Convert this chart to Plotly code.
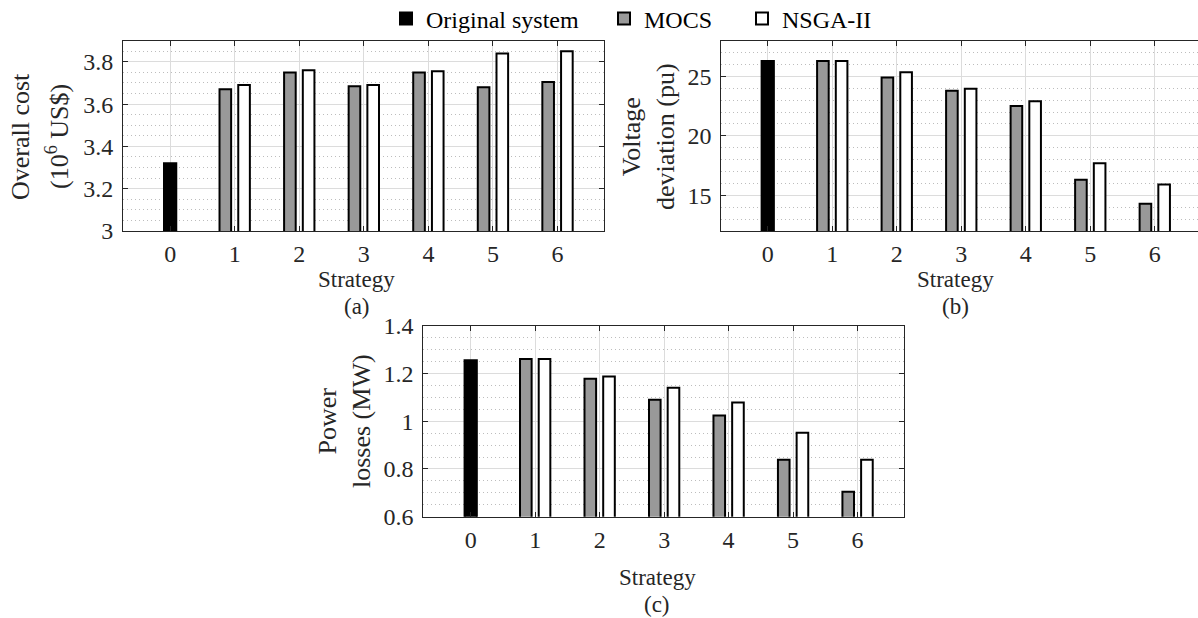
import plotly.graph_objects as go

# Strategy categories
strategies = [0, 1, 2, 3, 4, 5, 6]
base_strategy = [0]
opt_strategies = [1, 2, 3, 4, 5, 6]

# (a) Overall cost (10^6 US$)
cost_original = [3.32]
cost_mocs = [3.67, 3.75, 3.685, 3.75, 3.68, 3.705]
cost_nsga = [3.69, 3.76, 3.69, 3.755, 3.84, 3.85]

# (b) Voltage deviation (pu)
vd_original = [26.3]
vd_mocs = [26.3, 24.9, 23.8, 22.5, 16.3, 14.3]
vd_nsga = [26.3, 25.35, 23.95, 22.9, 17.7, 15.9]

# (c) Power losses (MW)
loss_original = [1.255]
loss_mocs = [1.26, 1.178, 1.09, 1.024, 0.839, 0.705]
loss_nsga = [1.26, 1.187, 1.14, 1.078, 0.952, 0.839]

W, H = 1198, 618
FONT = "Liberation Serif, Times New Roman, serif"
AXIS_COLOR = "#262626"
GRID = "#dcdcdc"
MINOR_GRID = "#bdbdbd"
GRAY = "#999999"
EDGE = 2

panels = [
    dict(ax="", orig=cost_original, mocs=cost_mocs, nsga=cost_nsga, legend=True),
    dict(ax="2", orig=vd_original, mocs=vd_mocs, nsga=vd_nsga, legend=False),
    dict(ax="3", orig=loss_original, mocs=loss_mocs, nsga=loss_nsga, legend=False),
]

fig = go.Figure()
for p in panels:
    xa, ya = "x" + p["ax"], "y" + p["ax"]
    fig.add_trace(go.Bar(
        x=base_strategy, y=p["orig"], name="Original system",
        width=0.19, offset=-0.095,
        marker=dict(color="black", line=dict(color="black", width=EDGE)),
        xaxis=xa, yaxis=ya, showlegend=p["legend"], legend="legend"))
    fig.add_trace(go.Bar(
        x=opt_strategies, y=p["mocs"], name="MOCS",
        width=0.18, offset=-0.235,
        marker=dict(color=GRAY, line=dict(color="black", width=EDGE)),
        xaxis=xa, yaxis=ya, showlegend=p["legend"], legend="legend2"))
    fig.add_trace(go.Bar(
        x=opt_strategies, y=p["nsga"], name="NSGA-II",
        width=0.18, offset=0.055,
        marker=dict(color="white", line=dict(color="black", width=EDGE)),
        xaxis=xa, yaxis=ya, showlegend=p["legend"], legend="legend3"))


def xaxis(domain, rng, anchor):
    return dict(
        domain=domain, range=rng, anchor=anchor,
        tickmode="array", tickvals=strategies, ticktext=[str(s) for s in strategies],
        showline=True, linecolor=AXIS_COLOR, linewidth=1, mirror="ticks",
        ticks="inside", ticklen=5, tickcolor=AXIS_COLOR,
        showgrid=True, gridcolor=GRID, gridwidth=1, zeroline=False,
        tickfont=dict(family=FONT, size=24, color="#262626"),
        ticklabelstandoff=1,
    )


def yaxis(domain, rng, dtick, minor, anchor, mirror="ticks"):
    return dict(
        domain=domain, range=rng, anchor=anchor, dtick=dtick, tick0=0,
        showline=True, linecolor=AXIS_COLOR, linewidth=1, mirror=mirror,
        ticks="inside", ticklen=5, tickcolor=AXIS_COLOR,
        showgrid=True, gridcolor=GRID, gridwidth=1, zeroline=False,
        minor=dict(dtick=minor, tick0=0, showgrid=True, gridcolor=MINOR_GRID,
                   griddash="1px,3px", gridwidth=1, ticks=""),
        tickfont=dict(family=FONT, size=24, color="#262626"),
        ticklabelstandoff=4,
    )


top_dom = [1 - 231 / H, 1 - 40.7 / H]
bot_dom = [1 - 516.7 / H, 1 - 325.7 / H]


def legend_at(text_left):
    return dict(orientation="h", x=(text_left - 41) / W, xanchor="left",
                y=1.006, yanchor="top", bgcolor="rgba(0,0,0,0)", borderwidth=0,
                font=dict(family=FONT, size=24, color="black"))


fig.update_layout(
    width=W, height=H,
    margin=dict(l=0, r=0, t=0, b=0, autoexpand=False),
    paper_bgcolor="white", plot_bgcolor="white",
    barmode="overlay",
    font=dict(family=FONT, size=24, color="#262626"),
    xaxis=xaxis([123 / W, 604 / W], [-0.73, 6.72], "y"),
    yaxis=yaxis(top_dom, [3, 3.9], 0.2, 0.05, "x"),
    xaxis2=xaxis([721.3 / W, 1.0], [-0.72, 6.67], "y2"),
    yaxis2=yaxis(top_dom, [12, 28], 5, 1, "x2", mirror=False),
    xaxis3=xaxis([423.3 / W, 904 / W], [-0.735, 6.72], "y3"),
    yaxis3=yaxis(bot_dom, [0.6, 1.4], 0.2, 0.05, "x3"),
    legend=legend_at(427),
    legend2=legend_at(645),
    legend3=legend_at(783),
)


def label(x, y, text, size, angle=0):
    fig.add_annotation(x=x / W, y=1 - y / H, xref="paper", yref="paper",
                       text=text, showarrow=False, textangle=angle,
                       xanchor="center", yanchor="middle",
                       font=dict(family=FONT, size=size, color="#262626"))


# y-axis titles
label(21, 137, "Overall cost", 26, -90)
label(58, 137, "(10<sup>6</sup> US$)", 26, -90)
label(648, 136, "Voltage<br>deviation (pu)", 26, -90)
label(344, 421, "Power<br>losses (MW)", 26, -90)

# x-axis titles and panel tags
for cx, ty, tag in [(357, 279, "(a)"), (955, 279, "(b)"), (657, 577, "(c)")]:
    label(cx, ty, "Strategy", 23)
    label(cx, ty + 27, tag, 23)

fig.write_html("out.html")
